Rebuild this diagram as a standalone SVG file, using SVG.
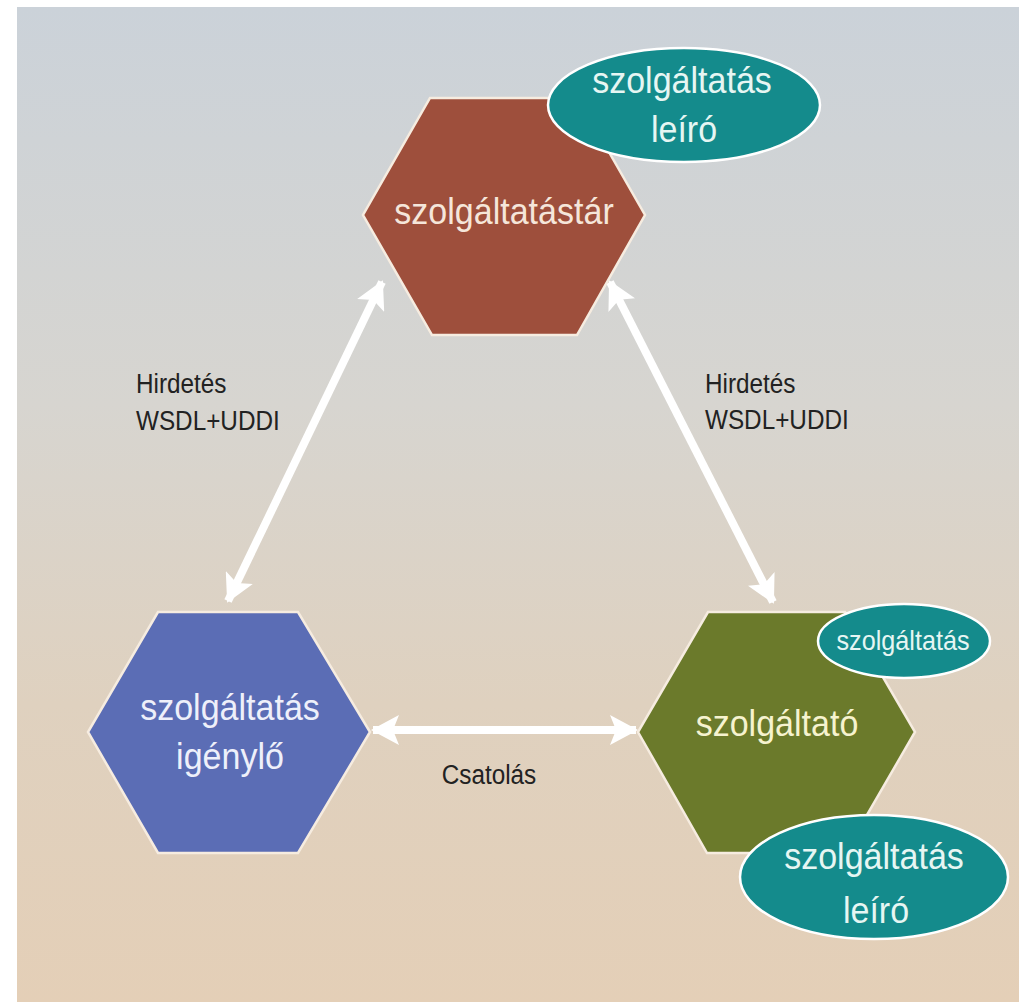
<svg xmlns="http://www.w3.org/2000/svg" width="1019" height="1002" viewBox="0 0 1019 1002">
<defs>
<linearGradient id="bg" x1="0" y1="0" x2="0" y2="1">
<stop offset="0" stop-color="#cbd2d9"/>
<stop offset="0.4" stop-color="#d7d5d0"/>
<stop offset="0.7" stop-color="#dfd1bf"/>
<stop offset="1" stop-color="#e4cfb7"/>
</linearGradient>
<marker id="ah" viewBox="0 0 28 30" refX="26" refY="15" markerWidth="28" markerHeight="30" markerUnits="userSpaceOnUse" orient="auto-start-reverse">
<path d="M0,0 L28,15 L0,30 L6,15 Z" fill="#ffffff"/>
</marker>
</defs>
<style>
.hex{stroke:#f6ece0;stroke-width:2.5}
.ell{fill:#148b8c;stroke:#ffffff;stroke-width:2.5}
.big{font-family:"Liberation Sans",Arial,sans-serif;font-size:37px;text-anchor:middle}
.sm{font-family:"Liberation Sans",Arial,sans-serif;font-size:28px;text-anchor:middle}
.lbl{font-family:"Liberation Sans",Arial,sans-serif;font-size:27px;fill:#222222}
.conn{stroke:#ffffff;stroke-width:8;fill:none}
</style>
<rect x="0" y="0" width="1019" height="1002" fill="#ffffff"/>
<rect x="17" y="7" width="1002" height="995" fill="url(#bg)"/>

<g id="connectors">
<line class="conn" x1="382" y1="282" x2="228" y2="601" marker-start="url(#ah)" marker-end="url(#ah)"/>
<line class="conn" x1="610" y1="282" x2="773" y2="602" marker-start="url(#ah)" marker-end="url(#ah)"/>
<line class="conn" x1="373" y1="730" x2="636" y2="730" stroke-width="10" marker-start="url(#ah)" marker-end="url(#ah)"/>
</g>

<g id="node-szolgaltatastar">
<polygon class="hex" points="430,98 578,98 645,215 577,335 432,335 363,215" fill="#9e4f3c"/>
<text class="big" transform="translate(504,224) scale(0.92,1)" fill="#f5e6da">szolgáltatástár</text>
</g>

<g id="node-leiro-top">
<ellipse class="ell" cx="684" cy="105" rx="136" ry="57"/>
<text class="big" transform="translate(682,93) scale(0.92,1)" fill="#e6f6f3">szolgáltatás</text>
<text class="big" transform="translate(684,142) scale(0.92,1)" fill="#e6f6f3">leíró</text>
</g>

<g id="node-igenylo">
<polygon class="hex" points="158,612 298,612 370,732 298,853 158,853 88,732" fill="#5b6db5"/>
<text class="big" transform="translate(230,720) scale(0.92,1)" fill="#eef0fa">szolgáltatás</text>
<text class="big" transform="translate(230,769) scale(0.92,1)" fill="#eef0fa">igénylő</text>
</g>

<g id="node-szolgaltato">
<polygon class="hex" points="708,612 845,612 915,732 845,853 707,853 638,732" fill="#6b7a2b"/>
<text class="big" transform="translate(777,736) scale(0.92,1)" fill="#f6f3cf">szolgáltató</text>
</g>

<g id="node-szolgaltatas-small">
<ellipse class="ell" cx="904" cy="641" rx="86" ry="37"/>
<text class="sm" transform="translate(903,650) scale(0.9,1)" fill="#e6f6f3">szolgáltatás</text>
</g>

<g id="node-leiro-bottom">
<ellipse class="ell" cx="874" cy="877" rx="134" ry="62"/>
<text class="big" transform="translate(874,869) scale(0.92,1)" fill="#e6f6f3">szolgáltatás</text>
<text class="big" transform="translate(876,923) scale(0.92,1)" fill="#e6f6f3">leíró</text>
</g>

<g id="labels">
<text class="lbl" transform="translate(136,393) scale(0.9,1)">Hirdetés</text>
<text class="lbl" transform="translate(136,430) scale(0.9,1)">WSDL+UDDI</text>
<text class="lbl" transform="translate(705,393) scale(0.9,1)">Hirdetés</text>
<text class="lbl" transform="translate(705,429) scale(0.9,1)">WSDL+UDDI</text>
<text class="lbl" transform="translate(489,784) scale(0.9,1)" text-anchor="middle">Csatolás</text>
</g>
</svg>
